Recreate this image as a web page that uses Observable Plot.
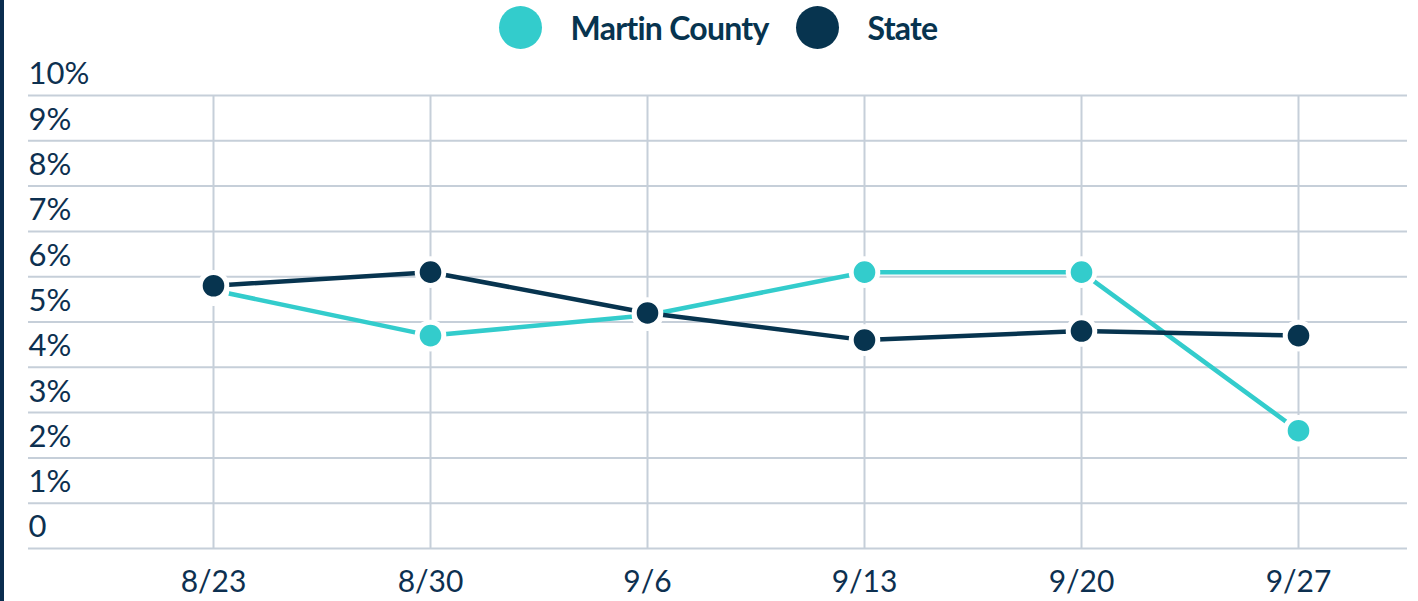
<!DOCTYPE html>
<html>
<head>
<meta charset="utf-8">
<script src="https://cdn.jsdelivr.net/npm/d3@7"></script>
<script src="https://cdn.jsdelivr.net/npm/@observablehq/plot@0.6"></script>
<style>
  html, body { margin: 0; padding: 0; background: #fff; }
  body { width: 1418px; height: 601px; position: relative; overflow: hidden; font-family: Lato, sans-serif; }
  #bar { position: absolute; left: 0; top: 0; width: 4px; height: 601px; background: #0a2d4f; z-index: 5; }
  #legend { position: absolute; left: 42px; top: 0; width: 1379px; height: 55px; display: flex; justify-content: center; align-items: center; }
  .sw { width: 43px; height: 43px; border-radius: 50%; margin-right: 29px; flex: none; }
  .lab { font-weight: 700; font-size: 32px; color: #07344f; letter-spacing: -0.75px; margin-right: 27px; white-space: nowrap; }
  #chart { position: absolute; left: 0; top: 55px; }
</style>
</head>
<body>
<div id="bar"></div>
<div id="legend"></div>
<div id="chart"></div>
<script>
const weeks = ["8/23", "8/30", "9/6", "9/13", "9/20", "9/27"];
const martinCounty = [5.7, 4.7, 5.15, 6.1, 6.1, 2.6];
const stateValues = [5.8, 6.1, 5.2, 4.6, 4.8, 4.7];
const seriesNames = ["Martin County", "State"];
const yTicks = [0, 1, 2, 3, 4, 5, 6, 7, 8, 9, 10];
const yTickLabels = ["0", "1%", "2%", "3%", "4%", "5%", "6%", "7%", "8%", "9%", "10%"];

const cyan = "#33cccc";
const navy = "#07344f";
const grid = "#c6cfd9";
const textColor = "#0d3050";

const martinData = weeks.map((w, i) => ({week: w, value: martinCounty[i]}));
const stateData = weeks.map((w, i) => ({week: w, value: stateValues[i]}));

// legend
const legend = document.getElementById("legend");
[[seriesNames[0], cyan], [seriesNames[1], navy]].forEach(([name, col]) => {
  const s = document.createElement("div");
  s.className = "sw"; s.style.background = col;
  const t = document.createElement("div");
  t.className = "lab"; t.textContent = name;
  legend.appendChild(s); legend.appendChild(t);
});

const chart = Plot.plot({
  width: 1418,
  height: 546,
  marginLeft: 28,
  marginRight: 11,
  marginTop: 40,
  marginBottom: 53,
  style: {fontFamily: "Lato, sans-serif", background: "white", overflow: "visible"},
  x: {type: "point", domain: weeks, padding: 0, insetLeft: 183, insetRight: 107, axis: null},
  y: {domain: [0, 10], axis: null},
  marks: [
    Plot.ruleY(yTicks, {y: d => d, stroke: grid, strokeWidth: 2}),
    Plot.ruleX(weeks, {x: d => d, stroke: grid, strokeWidth: 2}),
    Plot.text(yTicks, {y: d => d, text: (d, i) => yTickLabels[i], frameAnchor: "left", textAnchor: "start", dy: -21, fontSize: 31, fill: textColor, lineAnchor: "middle"}),
    Plot.text(weeks, {x: d => d, text: d => d, frameAnchor: "bottom", dy: 34, fontSize: 30, fill: textColor, lineAnchor: "middle"}),
    Plot.line(martinData, {x: "week", y: "value", stroke: cyan, strokeWidth: 4.5}),
    Plot.dot(martinData, {x: "week", y: "value", fill: cyan, stroke: "white", strokeWidth: 5, r: 13.3}),
    Plot.line(stateData, {x: "week", y: "value", stroke: navy, strokeWidth: 4.5}),
    Plot.dot(stateData, {x: "week", y: "value", fill: navy, stroke: "white", strokeWidth: 5, r: 13.3})
  ]
});
document.getElementById("chart").appendChild(chart);
</script>
</body>
</html>
